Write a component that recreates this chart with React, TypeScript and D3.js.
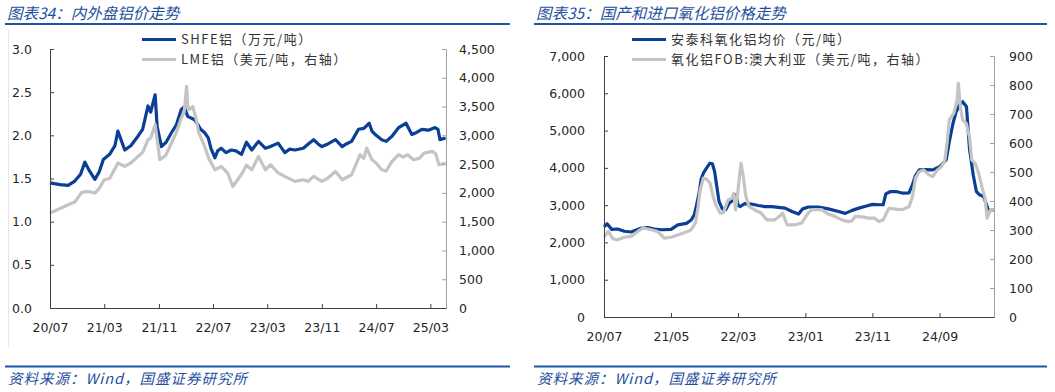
import React, { useEffect, useRef } from "react";
import * as d3 from "d3";

// 内外盘铝价: SHFE (万元/吨), LME (美元/吨, right axis)
const shfe: [string, number][] = [
  ["2020-07-01", 1.45], ["2020-07-20", 1.44], ["2020-08-15", 1.43], ["2020-09-20", 1.42],
  ["2020-10-20", 1.47], ["2020-11-15", 1.55], ["2020-12-04", 1.69], ["2020-12-22", 1.6],
  ["2021-01-18", 1.49], ["2021-02-07", 1.58], ["2021-02-25", 1.72], ["2021-03-25", 1.78],
  ["2021-04-18", 1.88], ["2021-05-01", 2.05], ["2021-05-15", 1.95], ["2021-06-01", 1.83],
  ["2021-06-28", 1.88], ["2021-07-30", 1.99], ["2021-08-20", 2.07], ["2021-09-13", 2.34],
  ["2021-09-25", 2.27], ["2021-10-15", 2.47], ["2021-10-24", 2.1], ["2021-11-12", 1.87],
  ["2021-12-03", 1.92], ["2021-12-27", 2.03], ["2022-01-18", 2.12], ["2022-02-09", 2.3],
  ["2022-02-22", 2.33], ["2022-03-10", 2.22], ["2022-04-10", 2.18], ["2022-04-25", 2.12],
  ["2022-05-07", 2.07], ["2022-05-25", 2.03], ["2022-06-10", 1.97], ["2022-06-22", 1.85],
  ["2022-07-10", 1.74], ["2022-07-22", 1.82], ["2022-08-07", 1.85], ["2022-08-28", 1.8],
  ["2022-09-21", 1.83], ["2022-10-12", 1.82], ["2022-11-06", 1.78], ["2022-11-28", 1.92],
  ["2022-12-22", 1.83], ["2023-01-21", 1.93], ["2023-02-21", 1.85], ["2023-03-16", 1.87],
  ["2023-04-19", 1.91], ["2023-05-19", 1.8], ["2023-06-10", 1.84], ["2023-07-03", 1.83],
  ["2023-08-10", 1.85], ["2023-09-01", 1.9], ["2023-09-25", 1.95], ["2023-10-15", 1.9],
  ["2023-11-01", 1.87], ["2023-11-28", 1.9], ["2024-01-01", 1.95], ["2024-01-31", 1.87],
  ["2024-02-18", 1.9], ["2024-03-13", 1.93], ["2024-04-13", 2.07], ["2024-05-07", 2.08],
  ["2024-05-31", 2.14], ["2024-06-12", 2.05], ["2024-07-01", 2.0], ["2024-07-26", 1.95],
  ["2024-08-15", 1.93], ["2024-09-10", 1.99], ["2024-10-10", 2.09], ["2024-11-12", 2.14],
  ["2024-12-08", 2.01], ["2024-12-27", 2.03], ["2025-01-22", 2.07], ["2025-02-20", 2.06],
  ["2025-03-22", 2.09], ["2025-04-04", 2.07], ["2025-04-13", 1.95], ["2025-05-08", 1.97],
];

const lme: [string, number][] = [
  ["2020-07-01", 1648], ["2020-08-15", 1730], ["2020-09-20", 1793], ["2020-10-20", 1840],
  ["2020-11-20", 2010], ["2020-12-20", 2025], ["2021-01-18", 1997], ["2021-02-07", 2080],
  ["2021-03-01", 2228], ["2021-03-25", 2250], ["2021-04-15", 2400], ["2021-05-01", 2519],
  ["2021-06-01", 2460], ["2021-06-28", 2520], ["2021-07-30", 2634], ["2021-08-20", 2700],
  ["2021-09-13", 2924], ["2021-09-25", 2950], ["2021-10-15", 3186], ["2021-11-05", 2576],
  ["2021-12-01", 2650], ["2021-12-27", 2867], ["2022-01-18", 3050], ["2022-02-09", 3300],
  ["2022-02-22", 3400], ["2022-03-05", 3853], ["2022-03-10", 3500], ["2022-03-17", 3447],
  ["2022-04-01", 3500], ["2022-04-14", 3331], ["2022-04-28", 3050], ["2022-05-25", 2808],
  ["2022-06-12", 2600], ["2022-07-10", 2402], ["2022-08-07", 2460], ["2022-09-05", 2345],
  ["2022-09-28", 2111], ["2022-10-25", 2258], ["2022-11-10", 2350], ["2022-11-28", 2480],
  ["2022-12-22", 2400], ["2023-01-21", 2634], ["2023-02-21", 2402], ["2023-03-16", 2489],
  ["2023-04-18", 2350], ["2023-05-19", 2286], ["2023-07-03", 2199], ["2023-08-10", 2228],
  ["2023-09-01", 2200], ["2023-09-25", 2286], ["2023-11-01", 2199], ["2023-11-25", 2250],
  ["2024-01-01", 2373], ["2024-01-31", 2228], ["2024-03-13", 2315], ["2024-04-20", 2663],
  ["2024-05-07", 2600], ["2024-05-20", 2779], ["2024-06-12", 2576], ["2024-07-01", 2520],
  ["2024-07-26", 2402], ["2024-08-15", 2380], ["2024-09-10", 2547], ["2024-10-10", 2663],
  ["2024-10-30", 2620], ["2024-11-20", 2663], ["2024-12-15", 2576], ["2025-01-10", 2600],
  ["2025-02-01", 2692], ["2025-03-10", 2721], ["2025-03-25", 2680], ["2025-04-08", 2489],
  ["2025-05-08", 2518],
];

// 国产和进口氧化铝: 安泰科均价 (元/吨), FOB 澳大利亚 (美元/吨, right axis)
const antaike: [string, number][] = [
  ["2020-07-01", 2420], ["2020-07-15", 2500], ["2020-08-05", 2350], ["2020-09-01", 2360],
  ["2020-10-01", 2300], ["2020-11-01", 2280], ["2020-12-15", 2380], ["2021-01-15", 2400],
  ["2021-02-15", 2360], ["2021-03-20", 2340], ["2021-05-01", 2350], ["2021-06-01", 2470],
  ["2021-07-10", 2510], ["2021-08-01", 2600], ["2021-08-15", 2750], ["2021-08-25", 3000],
  ["2021-09-05", 3300], ["2021-09-15", 3700], ["2021-09-25", 3857], ["2021-10-10", 4000],
  ["2021-10-25", 4125], ["2021-11-05", 4110], ["2021-11-15", 3900], ["2021-11-25", 3500],
  ["2021-12-05", 3100], ["2021-12-20", 2900], ["2022-01-05", 2880], ["2022-01-20", 3050],
  ["2022-02-10", 3150], ["2022-02-20", 3276], ["2022-03-01", 3000], ["2022-03-10", 2963],
  ["2022-04-01", 3040], ["2022-05-01", 3030], ["2022-06-01", 2990], ["2022-07-01", 2960],
  ["2022-08-01", 2960], ["2022-09-01", 2940], ["2022-10-01", 2920], ["2022-11-01", 2830],
  ["2022-12-01", 2760], ["2022-12-20", 2900], ["2023-01-15", 2950], ["2023-03-01", 2950],
  ["2023-04-15", 2900], ["2023-06-01", 2830], ["2023-07-01", 2780], ["2023-08-01", 2860],
  ["2023-09-01", 2920], ["2023-10-01", 2970], ["2023-11-01", 3020], ["2023-12-01", 3010],
  ["2023-12-20", 3010], ["2024-01-01", 3300], ["2024-01-20", 3360], ["2024-02-20", 3360],
  ["2024-03-20", 3320], ["2024-04-15", 3330], ["2024-05-01", 3550], ["2024-05-15", 3800],
  ["2024-06-01", 3946], ["2024-07-01", 3950], ["2024-08-01", 3946], ["2024-09-01", 4030],
  ["2024-10-01", 4214], ["2024-10-15", 4700], ["2024-11-01", 5197], ["2024-11-15", 5500],
  ["2024-12-01", 5700], ["2024-12-15", 5775], ["2025-01-01", 5641], ["2025-01-15", 4500],
  ["2025-02-01", 3800], ["2025-02-15", 3364], ["2025-03-01", 3280], ["2025-03-20", 3231],
  ["2025-04-10", 2874], ["2025-05-05", 2874],
];

const fob: [string, number][] = [
  ["2020-07-01", 275], ["2020-07-20", 295], ["2020-08-10", 270], ["2020-09-01", 266],
  ["2020-10-01", 275], ["2020-11-01", 278], ["2020-12-01", 295], ["2020-12-25", 307],
  ["2021-02-01", 301], ["2021-03-01", 295], ["2021-04-01", 272], ["2021-05-01", 275],
  ["2021-06-01", 283], ["2021-07-15", 295], ["2021-08-01", 301], ["2021-08-20", 324],
  ["2021-09-01", 380], ["2021-09-10", 438], ["2021-09-25", 479], ["2021-10-10", 475],
  ["2021-10-25", 462], ["2021-11-10", 410], ["2021-11-20", 387], ["2021-12-10", 358],
  ["2021-12-25", 360], ["2022-01-15", 404], ["2022-02-01", 410], ["2022-02-10", 427],
  ["2022-02-18", 369], ["2022-02-28", 427], ["2022-03-10", 500], ["2022-03-15", 530],
  ["2022-03-25", 484], ["2022-04-05", 420], ["2022-04-20", 381], ["2022-05-15", 370],
  ["2022-06-15", 358], ["2022-07-10", 335], ["2022-08-15", 335], ["2022-09-10", 350],
  ["2022-09-20", 358], ["2022-10-10", 318], ["2022-11-15", 318], ["2022-12-15", 324],
  ["2023-01-15", 360], ["2023-02-01", 370], ["2023-03-15", 370], ["2023-04-15", 355],
  ["2023-05-15", 347], ["2023-06-15", 335], ["2023-07-15", 329], ["2023-08-01", 332],
  ["2023-08-15", 347], ["2023-09-15", 345], ["2023-10-15", 341], ["2023-11-10", 341],
  ["2023-12-01", 329], ["2023-12-20", 335], ["2024-01-15", 375], ["2024-02-15", 372],
  ["2024-03-15", 370], ["2024-04-15", 380], ["2024-05-01", 415], ["2024-05-15", 480],
  ["2024-06-01", 501], ["2024-06-20", 507], ["2024-07-15", 490], ["2024-08-01", 484],
  ["2024-08-20", 505], ["2024-09-10", 519], ["2024-09-25", 540], ["2024-10-05", 600],
  ["2024-10-15", 680], ["2024-10-25", 690], ["2024-11-05", 703], ["2024-11-20", 750],
  ["2024-11-25", 806], ["2024-12-05", 720], ["2024-12-15", 680], ["2024-12-31", 668],
  ["2025-01-15", 620], ["2025-01-25", 542], ["2025-02-10", 530], ["2025-02-25", 496],
  ["2025-03-15", 440], ["2025-03-25", 415], ["2025-04-05", 341], ["2025-04-20", 370],
  ["2025-05-05", 370],
];

const leftXTicks = ["2020-07-01", "2021-03-01", "2021-11-01", "2022-07-01", "2023-03-01", "2023-11-01", "2024-07-01", "2025-03-01"];
const rightXTicks = ["2020-07-01", "2021-05-01", "2022-03-01", "2023-01-01", "2023-11-01", "2024-09-01"];

const titles = ["图表34：内外盘铝价走势", "图表35：国产和进口氧化铝价格走势"];
const legends = [
  ["SHFE铝（万元/吨）", "LME铝（美元/吨，右轴）"],
  ["安泰科氧化铝均价（元/吨）", "氧化铝FOB:澳大利亚（美元/吨，右轴）"],
];
const source = "资料来源：Wind，国盛证券研究所";

const BLUE = "#0b3f95";
const GREY = "#c4c4c4";
const NUM_FONT = "'DejaVu Sans', Verdana, sans-serif";
const CJK_FONT = "'Noto Sans CJK SC', sans-serif";
const parse = d3.timeParse("%Y-%m-%d");

function drawPanel(svg, o) {
  const g = svg.append("g");

  // header + footer
  g.append("text").attr("x", o.frameL + 2).attr("y", 19)
    .attr("font-family", CJK_FONT).attr("font-style", "italic").attr("font-size", 15.5)
    .attr("fill", "#1f4f9e").text(o.title);
  g.append("line").attr("x1", o.frameL).attr("x2", o.frameR).attr("y1", 24).attr("y2", 24)
    .attr("stroke", "#1f55a8").attr("stroke-width", 2);
  g.append("line").attr("x1", o.frameL).attr("x2", o.frameR).attr("y1", 366.5).attr("y2", 366.5)
    .attr("stroke", "#1f55a8").attr("stroke-width", 2);
  g.append("text").attr("x", o.frameL + 3).attr("y", 384)
    .attr("font-family", CJK_FONT).attr("font-style", "italic").attr("font-size", 14.5)
    .attr("letter-spacing", 1).attr("fill", "#1f4f9e").text(source);

  const x = d3.scaleTime().domain([parse(o.xStart), parse(o.xEnd)]).range([o.left, o.right]);
  const yL = d3.scaleLinear().domain(o.leftDomain).range([o.bottom, o.top]);
  const yR = d3.scaleLinear().domain(o.rightDomain).range([o.bottom, o.top]);

  const lineL = d3.line().x((d) => x(parse(d[0]))).y((d) => yL(d[1]));
  const lineR = d3.line().x((d) => x(parse(d[0]))).y((d) => yR(d[1]));

  g.append("path").datum(o.seriesL).attr("d", lineL).attr("fill", "none")
    .attr("stroke", BLUE).attr("stroke-width", 3.2).attr("stroke-linejoin", "round");
  g.append("path").datum(o.seriesR).attr("d", lineR).attr("fill", "none")
    .attr("stroke", GREY).attr("stroke-width", 3.2).attr("stroke-linejoin", "round");

  const styleAxis = (a, color) => {
    a.select(".domain").attr("stroke", color);
    a.selectAll(".tick line").attr("stroke", color);
    a.selectAll("text").attr("fill", "#262626").attr("font-size", 12.5).attr("font-family", NUM_FONT);
  };

  g.append("g").attr("transform", `translate(${o.left},0)`)
    .call(d3.axisLeft(yL).tickValues(d3.range(o.leftDomain[0], o.leftDomain[1] + 1e-9, o.leftStep))
      .tickFormat(o.leftFormat).tickSizeInner(-4).tickSizeOuter(0).tickPadding(o.padL))
    .call((a) => styleAxis(a, "#404040"));

  g.append("g").attr("transform", `translate(${o.right},0)`)
    .call(d3.axisRight(yR).tickValues(d3.range(o.rightDomain[0], o.rightDomain[1] + 1e-9, o.rightStep))
      .tickFormat(d3.format(",")).tickSizeInner(-4).tickSizeOuter(0).tickPadding(o.padR))
    .call((a) => styleAxis(a, "#a0a0a0"));

  g.append("g").attr("transform", `translate(0,${o.bottom})`)
    .call(d3.axisBottom(x).tickValues(o.xTicks.map(parse)).tickFormat(d3.timeFormat("%y/%m"))
      .tickSizeInner(-4).tickSizeOuter(0).tickPadding(15))
    .call((a) => styleAxis(a, "#404040"));

  // legend
  o.legend.forEach((label, i) => {
    const ly = o.legendY + i * 20;
    g.append("line").attr("x1", o.legendX).attr("x2", o.legendX + 34).attr("y1", ly).attr("y2", ly)
      .attr("stroke", i === 0 ? BLUE : GREY).attr("stroke-width", 3);
    g.append("text").attr("x", o.legendX + 39).attr("y", ly).attr("dy", "0.35em")
      .attr("font-family", CJK_FONT).attr("font-size", 13).attr("letter-spacing", 1.5)
      .attr("fill", "#333").text(label);
  });
}

export default function App() {
  const ref = useRef(null);

  useEffect(() => {
    const svg = d3.select(ref.current);
    svg.selectAll("*").remove();

    // faint frame edge on the left panel
    svg.append("line").attr("x1", 8.5).attr("x2", 8.5).attr("y1", 30).attr("y2", 347)
      .attr("stroke", "#e6e6e6");

    drawPanel(svg, {
      title: titles[0], legend: legends[0], frameL: 5, frameR: 510,
      left: 50, right: 446, top: 49, bottom: 308,
      xStart: "2020-07-01", xEnd: "2025-05-10", xTicks: leftXTicks,
      leftDomain: [0, 3], leftStep: 0.5, leftFormat: d3.format(".1f"),
      rightDomain: [0, 4500], rightStep: 500, padL: 18, padR: 13,
      seriesL: shfe, seriesR: lme, legendX: 142, legendY: 39.5,
    });

    drawPanel(svg, {
      title: titles[1], legend: legends[1], frameL: 534, frameR: 1047,
      left: 604, right: 994, top: 56, bottom: 317,
      xStart: "2020-07-01", xEnd: "2025-05-06", xTicks: rightXTicks,
      leftDomain: [0, 7000], leftStep: 1000, leftFormat: d3.format(","),
      rightDomain: [0, 900], rightStep: 100, padL: 19, padR: 15,
      seriesL: antaike, seriesR: fob, legendX: 632, legendY: 39.5,
    });
  }, []);

  return (
    <svg ref={ref} width={1055} height={392}
      style={{ position: "absolute", left: 0, top: 0, background: "#fff" }} />
  );
}
